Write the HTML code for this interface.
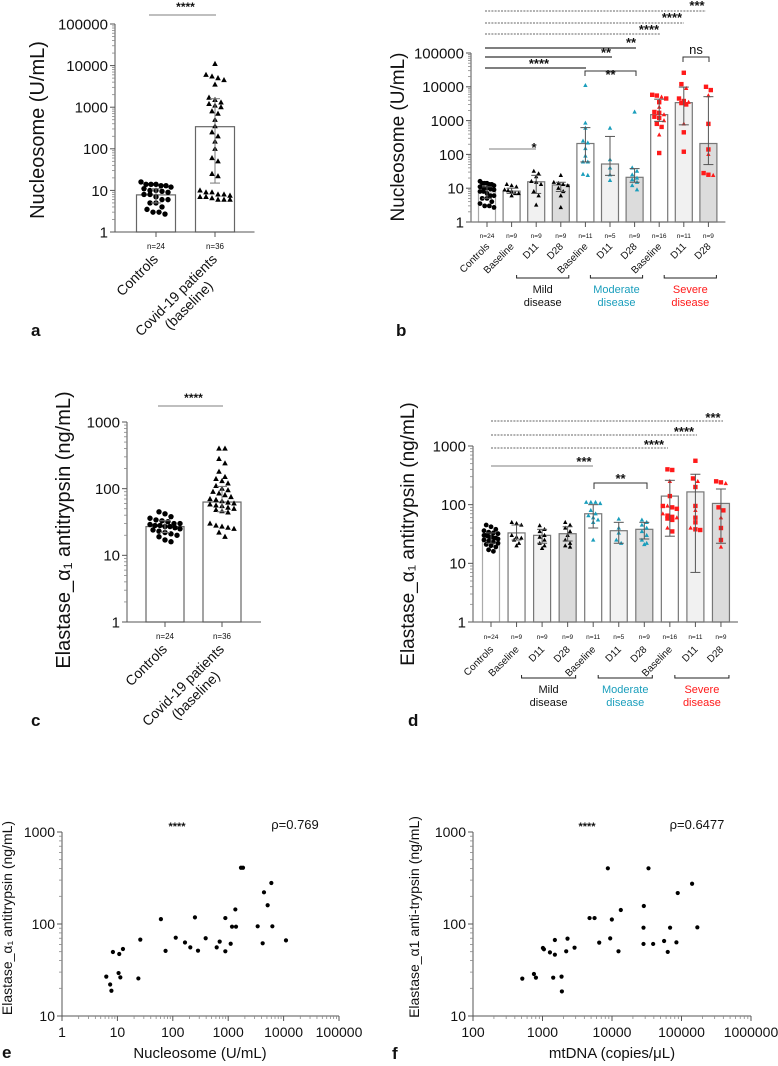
<!DOCTYPE html>
<html><head><meta charset="utf-8">
<style>
html,body{margin:0;padding:0;background:#fff;}
svg{display:block;font-family:"Liberation Sans",sans-serif;}
</style></head>
<body>
<svg id="fig" width="778" height="1066" viewBox="0 0 778 1066" xmlns="http://www.w3.org/2000/svg"></svg>
<script>
// ---------- Panel a data ----------
const aCategories = ["Controls", "Covid-19 patients"];
const aCounts = ["n=24", "n=36"];
const aMeans = [7.8, 340];
const aErrLo = [5, 15];
const aErrHi = [11, 1600];
const aControls = [14,14,14,13,13,16,12,11,10,9.5,10,9,8,8,7,6,6,5,5,4,3.5,3,3,2.7];
const aCovid = [11000,6000,5500,5000,4500,3500,1700,1500,1300,1200,1100,1000,800,700,500,350,250,200,150,100,60,50,25,22,10,9,9,8,8,7.5,7,7,6.5,6,6,6];
const aTicks = [1,10,100,1000,10000,100000];

// ---------- Panel c data ----------
const cMeans = [27, 63];
const cErrLo = [22, 45];
const cErrHi = [33, 108];
const cControls = [45,42,38,36,34,33,32,30,30,29,28,28,27,27,26,25,24,23,22,21,20,19,17,16];
const cCovid = [400,400,280,240,180,150,140,130,120,110,100,95,90,85,80,75,70,68,65,62,60,58,56,55,52,50,48,46,44,30,28,27,26,25,22,19];
const cTicks = [1,10,100,1000];

// ---------- Panel b data ----------
const bCategories = ["Controls","Baseline","D11","D28","Baseline","D11","D28","Baseline","D11","D28"];
const bCounts = ["n=24","n=9","n=9","n=9","n=11","n=5","n=9","n=16","n=11","n=9"];
const bMeans = [7.8, 8.2, 15.5, 12.5, 210, 52, 21, 1500, 3400, 210];
const bErrLo = [5, 7, 7, 8, 60, 24, 15, 950, 750, 50];
const bErrHi = [11, 10, 24, 15, 620, 340, 38, 4300, 9800, 5100];
const bPoints = [
  [14,14,14,13,13,16,12,11,10,9.5,10,9,8,8,7,6,6,5,5,4,3.5,3,3,2.7],
  [13,12,11,9,8.5,8,7,7,6],
  [32,27,22,16,15,13,8,6,3.2],
  [24,15,14,13,12,10,8,6,2.7],
  [11000,850,600,250,220,150,90,60,60,24,26],
  [600,70,40,25,17],
  [1800,40,32,25,20,18,15,12,9],
  [5800,5500,5000,4500,3500,2500,1800,1700,1500,1300,1200,1000,800,650,380,110],
  [26000,12000,9000,4500,3800,3500,3300,3000,800,450,120],
  [10000,8000,5500,800,140,100,28,25,24]
];

// ---------- Panel d data ----------
const dMeans = [27, 33, 30, 32, 70, 36, 38, 140, 165, 105];
const dErrLo = [22, 25, 22, 24, 40, 22, 26, 29, 7, 22];
const dErrHi = [33, 45, 38, 42, 100, 50, 50, 260, 330, 185];
const dPoints = [
  [45,42,38,36,34,33,32,30,30,29,28,28,27,27,26,25,24,23,22,21,20,19,17,16],
  [50,48,45,30,28,27,25,22,20],
  [44,38,35,30,28,25,22,20,18],
  [50,45,40,35,30,25,22,20,19],
  [110,110,110,105,80,70,65,60,55,50,25],
  [57,40,33,25,22],
  [55,50,45,40,35,30,25,22,21],
  [400,390,250,140,95,95,90,85,70,65,62,60,58,55,40,35],
  [560,280,250,200,95,80,60,50,40,38,37],
  [250,240,230,90,80,60,40,25,19]
];

// ---------- Panel e data ----------
const eNucleosome = [6.3,7.4,7.8,8.3,10.5,10.8,11.3,12.6,23.9,25.9,61,74,113,166,207,285,251,392,620,702,888,888,1109,1172,1346,1383,1702,1849,3404,4190,4426,5155,6010,6266,11040];
const eElastase = [26.8,22,18.8,49.6,29.3,47.2,26.3,53.5,25.6,67.6,113,51,71,63,55.7,51.3,118,70,55.7,64.3,116,50.5,61,93.5,144,93.5,409,409,94.4,61.7,221,160,279,94.4,66.4];
const eXTicks = [1,10,100,1000,10000,100000];
const eYTicks = [10,100,1000];

// ---------- Panel f data ----------
const fMtDNA = [512,753,804,1014,1048,1279,1426,1507,1507,1880,1901,2193,2291,2891,4753,5610,6546,8715,9420,9950,12400,13390,28400,28400,28700,33500,39100,56200,63400,68500,84500,88300,142000,169000];
const fElastase = [25.5,28.6,26.1,54.8,53.1,49.2,26.1,67,46.4,26.8,18.5,50.5,69.3,55.3,116,116,62.7,403,69.8,112,50.5,142,60.7,91.2,157,403,60.7,65.3,49.7,91.2,63.2,217,274,92];
const fXTicks = [100,1000,10000,100000,1000000];
const fYTicks = [10,100,1000];

const NS = "http://www.w3.org/2000/svg";
const svg = document.getElementById("fig");
function el(tag, attrs, parent, text) {
  const e = document.createElementNS(NS, tag);
  for (const k in attrs) e.setAttribute(k, attrs[k]);
  if (text !== undefined) e.textContent = text;
  (parent || svg).appendChild(e);
  return e;
}
function logScale(vmin, vmax, p0, p1) {
  const l0 = Math.log10(vmin), l1 = Math.log10(vmax);
  return v => p0 + (Math.log10(v) - l0) / (l1 - l0) * (p1 - p0);
}
function yLogAxis(g, x, y, ticks, fs, name) {
  const ax = el("g", {}, g);
  
  
  const top = y(ticks[ticks.length-1]), bot = y(ticks[0]);
  el("line", {x1:x, y1:top, x2:x, y2:bot, stroke:"#555", "stroke-width":1}, ax);
  ticks.forEach((t, i) => {
    el("line", {x1:x-5, y1:y(t), x2:x, y2:y(t), stroke:"#555"}, ax);
    const lbl = el("text", {x:x-7, y:y(t)+fs*0.36, "text-anchor":"end", "font-size":fs, fill:"#111"}, ax, String(t));
    
    
    if (i < ticks.length-1) for (let m = 2; m <= 9; m++) {
      el("line", {x1:x-3, y1:y(t*m), x2:x, y2:y(t*m), stroke:"#888", "stroke-width":0.8}, ax);
    }
  });
}
function xLogAxis(g, y, x, ticks, fs, name) {
  const ax = el("g", {}, g);
  
  
  el("line", {x1:x(ticks[0]), y1:y, x2:x(ticks[ticks.length-1]), y2:y, stroke:"#555"}, ax);
  ticks.forEach((t, i) => {
    el("line", {x1:x(t), y1:y, x2:x(t), y2:y+5, stroke:"#555"}, ax);
    const lbl = el("text", {x:x(t), y:y+21, "text-anchor":"middle", "font-size":fs, fill:"#111"}, ax, String(t));
    
    
    if (i < ticks.length-1) for (let m = 2; m <= 9; m++) {
      el("line", {x1:x(t*m), y1:y, x2:x(t*m), y2:y+3, stroke:"#888", "stroke-width":0.8}, ax);
    }
  });
}
function marker(g, shape, cx, cy, r, color) {
  let m;
  if (shape === "circle") m = el("circle", {cx, cy, r, fill:color}, g);
  else if (shape === "square") m = el("rect", {x:cx-r, y:cy-r, width:2*r, height:2*r, fill:color}, g);
  else m = el("polygon", {points:`${cx},${cy-r*1.1} ${cx-r},${cy+r*0.75} ${cx+r},${cy+r*0.75}`, fill:color}, g);
  
  
}
// compact binned swarm: points grouped into vertical bins, spread in rows, capped to maxW
function swarm(vals, y, d, maxW) {
  const idx = vals.map((v,i)=>i).sort((a,b)=>y(vals[a])-y(vals[b]));
  const out = new Array(vals.length).fill(0);
  let bin = [], binStart = null;
  const flush = () => {
    const n = bin.length;
    if (n > 1) {
      const sp = Math.min(d, maxW/(n-1));
      bin.forEach((i,k) => { out[i] = (k-(n-1)/2)*sp; });
    }
    bin = [];
  };
  idx.forEach(i => {
    const py = y(vals[i]);
    if (binStart === null || py - binStart > d*0.9) { flush(); binStart = py; }
    bin.push(i);
  });
  flush();
  return out;
}
function bars(g, centers, w, y, base, means, fills, strokes) {
  means.forEach((m, i) => {
    const r = el("rect", {x:centers[i]-w/2, y:y(m), width:w, height:base-y(m), fill:fills[i], stroke:strokes[i], "stroke-width":1.2}, g);
    
    
  });
}
function errbars(g, centers, cap, y, lo, hi, color) {
  lo.forEach((l, i) => {
    const cx = centers[i];
    const eg = el("g", {stroke:color, "stroke-width":1}, g);
    
    
    el("line", {x1:cx, y1:y(l), x2:cx, y2:y(hi[i])}, eg);
    el("line", {x1:cx-cap, y1:y(l), x2:cx+cap, y2:y(l)}, eg);
    el("line", {x1:cx-cap, y1:y(hi[i]), x2:cx+cap, y2:y(hi[i])}, eg);
  });
}
function text(g, x, y, s, attrs, name) {
  const t = el("text", Object.assign({x, y, fill:"#111"}, attrs), g, s);
  
  
  return t;
}
function sigLine(g, x1, x2, y, dashed, stars, sx, sy, color) {
  const l = el("line", {x1, y1:y, x2, y2:y, stroke:color||"#333", "stroke-width":dashed?0.8:1.2}, g);
  if (dashed) l.setAttribute("stroke-dasharray", "2,1.2");
  
  
  text(g, sx, sy, stars, {"font-size":13, "text-anchor":"middle", "font-weight":"bold"}, 'significance-stars');
}
function bracket(g, x1, x2, y, h, label, ly, fs) {
  const p = el("path", {d:`M${x1},${y+h} L${x1},${y} L${x2},${y} L${x2},${y+h}`, fill:"none", stroke:"#333", "stroke-width":1}, g);
  
  
  text(g, (x1+x2)/2, ly, label, {"font-size":fs||13, "text-anchor":"middle", "font-weight": label==="ns"?"normal":"bold"}, 'bracket-label');
}

// ================= Panel A & C (two-bar) =================
function twoBar(name, xAx, yTop, yBot, ticks, centers, w, means, lo, hi, ctrl, covid, yTitle, yTitleX, yTitleY, sig, letter) {
  const g = el("g", {});  
  const y = logScale(ticks[0], ticks[ticks.length-1], yBot, yTop);
  bars(g, centers, w, y, yBot, means, ["#fff","#fff"], ["#666","#666"]);
  const offC = swarm(ctrl, y, 6, 30);
  ctrl.forEach((v,i)=>marker(g, "circle", centers[0]+offC[i], y(v), 2.7, "#000"));
  const offV = swarm(covid, y, 6, 30);
  covid.forEach((v,i)=>marker(g, "tri", centers[1]+offV[i], y(v), 2.8, "#000"));
  errbars(g, centers, 5, y, lo, hi, "#777");
  yLogAxis(g, xAx, y, ticks, 15, "y-axis");
  el("line", {x1:xAx-2, y1:yBot, x2:centers[1]+w/2+20, y2:yBot, stroke:"#555"}, g);
  centers.forEach(c => el("line", {x1:c, y1:yBot, x2:c, y2:yBot+5, stroke:"#555"}, g));
  aCounts.forEach((n,i)=>text(g, centers[i], yBot+17, n, {"font-size":8, "text-anchor":"middle"}, 'n-label'));
  const t1 = el("g", {transform:`translate(${centers[0]+3},${yBot+28}) rotate(-45)`}, g);
  text(t1, 0, 0, aCategories[0], {"font-size":14, "text-anchor":"end"}, 'x-category-label');
  const t2 = el("g", {transform:`translate(${centers[1]+3},${yBot+28}) rotate(-45)`}, g);
  text(t2, 0, 0, aCategories[1], {"font-size":14, "text-anchor":"end"}, 'x-category-label');
  text(t2, -22, 16, "(baseline)", {"font-size":14, "text-anchor":"end"}, 'x-category-label');
  text(g, 0, 0, yTitle, {"font-size":20, "text-anchor":"middle", transform:`translate(${yTitleX},${yTitleY}) rotate(-90)`}, 'y-axis-title');
  el("line", {x1:centers[0]-7, y1:sig, x2:centers[1]+1, y2:sig, stroke:"#999", "stroke-width":1.3}, g);
  text(g, (centers[0]+centers[1])/2, sig-4, "****", {"font-size":12, "text-anchor":"middle", "font-weight":"bold"}, 'significance-stars');
  text(g, letter[1], letter[2], letter[0], {"font-size":17, "font-weight":"bold"}, 'panel-label');
}
twoBar("panel-a", 115, 24, 232, aTicks, [156,215], 39, aMeans, aErrLo, aErrHi, aControls, aCovid, "Nucleosome (U/mL)", 44, 130, 15, ["a",31,336]);
twoBar("panel-c", 127, 422, 622, cTicks, [165,222], 38, cMeans, cErrLo, cErrHi, cControls, cCovid, "Elastase_α\u2081 antitrypsin (ng/mL)", 70, 530, 406, ["c",31,726]);

// ================= Panel B & D (ten-bar) =================
const grpColors = ["#000","#000","#000","#000","#1a9ebc","#1a9ebc","#1a9ebc","#ff1a1a","#ff1a1a","#ff1a1a"];
const barFills = ["#fff","#fff","#f1f1f1","#dcdcdc","#fff","#f1f1f1","#dcdcdc","#fff","#f1f1f1","#dcdcdc"];
function tenBar(name, xAx, yTop, yBot, ticks, c0, step, means, lo, hi, pts, nY, lblY, brY, yTitle, yTX, yTY) {
  const g = el("g", {});  
  const y = logScale(ticks[0], ticks[ticks.length-1], yBot, yTop);
  const centers = means.map((_, i) => c0 + i*step);
  bars(g, centers, 17, y, yBot, means, barFills, barFills.map((_,i)=>i===0?"#aaa":"#777"));
  pts.forEach((arr, gi) => {
    const off = swarm(arr, y, 4.8, 14);
    arr.forEach((v, k) => {
      let shape = gi === 0 ? "circle" : "tri";
      if (gi >= 7 && k % 3 !== 2) shape = "square";
      marker(g, shape, centers[gi] + off[k], y(v), gi===0?2.4:2.2, grpColors[gi]);
    });
  });
  errbars(g, centers, 5, y, lo, hi, "#555");
  yLogAxis(g, xAx, y, ticks, 15, "y-axis");
  el("line", {x1:xAx-2, y1:yBot, x2:centers[9]+17, y2:yBot, stroke:"#777", "stroke-width":1.2}, g);
  centers.forEach((c,i) => {
    el("line", {x1:c, y1:yBot, x2:c, y2:yBot+5, stroke:"#555"}, g);
    text(g, c, nY, bCounts[i], {"font-size":6.5, "text-anchor":"middle"}, 'n-label');
    const tg = el("g", {transform:`translate(${c+3},${lblY}) rotate(-45)`}, g);
    text(tg, 0, 0, bCategories[i], {"font-size":10, "text-anchor":"end"}, 'x-category-label');
  });
  const groups = [["Mild","disease","#111",1,3],["Moderate","disease","#1a9ebc",4,6],["Severe","disease","#ff1a1a",7,9]];
  groups.forEach(gr => {
    const x1 = centers[gr[3]] + 5, x2 = centers[gr[4]] + 8;
    const p = el("path", {d:`M${x1},${brY-3} L${x1},${brY} L${x2},${brY} L${x2},${brY-3}`, fill:"none", stroke:"#222", "stroke-width":1}, g);
    
    
    text(g, (x1+x2)/2, brY+15, gr[0], {"font-size":11, "text-anchor":"middle", fill:gr[2]}, 'group-label');
    text(g, (x1+x2)/2, brY+28, gr[1], {"font-size":11, "text-anchor":"middle", fill:gr[2]}, 'group-label');
  });
  text(g, 0, 0, yTitle, {"font-size":19, "text-anchor":"middle", transform:`translate(${yTX},${yTY}) rotate(-90)`}, 'y-axis-title');
  return {g, centers, y};
}
const B = tenBar("panel-b", 471, 53, 222, aTicks, 487, 24.6, bMeans, bErrLo, bErrHi, bPoints, 238, 247, 278, "Nucleosome (U/mL)", 404, 137);
sigLine(B.g, 485, 706, 11, true, "***", 697, 10);
sigLine(B.g, 485, 684, 23, true, "****", 672, 22);
sigLine(B.g, 485, 661, 34, true, "****", 649, 34);
sigLine(B.g, 485, 636, 48, false, "**", 631, 47);
sigLine(B.g, 485, 612, 57, false, "**", 606, 57);
sigLine(B.g, 485, 586, 68, false, "****", 539, 68);
sigLine(B.g, 489, 536, 149, false, "*", 534, 152, "#999");
bracket(B.g, 585, 636, 71, 5, "**", 79);
bracket(B.g, 683, 709, 57, 5, "ns", 54);
text(B.g, 396, 336, "b", {"font-size":17, "font-weight":"bold"}, 'panel-label');

const D = tenBar("panel-d", 473, 446, 622, cTicks, 491, 25.55, dMeans, dErrLo, dErrHi, dPoints, 639, 650, 678, "Elastase_α\u2081 antitrypsin (ng/mL)", 414, 534);
sigLine(D.g, 491, 723, 421, true, "***", 713, 422);
sigLine(D.g, 491, 697, 435, true, "****", 684, 436);
sigLine(D.g, 491, 668, 448, true, "****", 654, 449);
sigLine(D.g, 491, 593, 466, false, "***", 584, 466, "#999");
bracket(D.g, 594, 647, 483, 6, "**", 483);
text(D.g, 408, 726, "d", {"font-size":17, "font-weight":"bold"}, 'panel-label');

// ================= Panel E & F (scatter) =================
function scatter(name, xs, ys, xT, yT, xp0, xp1, yp0, yp1, xTitle, xTX, yTitle, yTX, yTY, rho, starsX, rhoX, letter) {
  const g = el("g", {});  
  const x = logScale(xT[0], xT[xT.length-1], xp0, xp1);
  const y = logScale(yT[0], yT[yT.length-1], yp0, yp1);
  yLogAxis(g, xp0, y, yT, 14, "y-axis");
  xLogAxis(g, yp0, x, xT, 14, "x-axis");
  xs.forEach((v,i) => marker(g, "circle", x(v), y(ys[i]), 2.1, "#000"));
  text(g, xTX, 1058, xTitle, {"font-size":15, "text-anchor":"middle"}, 'x-axis-title');
  text(g, 0, 0, yTitle, {"font-size":14, "text-anchor":"middle", transform:`translate(${yTX},${yTY}) rotate(-90)`}, 'y-axis-title');
  text(g, starsX, 830, "****", {"font-size":11, "text-anchor":"middle", "font-weight":"bold"}, 'significance-stars');
  text(g, rhoX, 829, rho, {"font-size":13, "text-anchor":"middle"}, 'correlation-label');
  text(g, letter[1], letter[2], letter[0], {"font-size":17, "font-weight":"bold"}, 'panel-label');
}
scatter("panel-e", eNucleosome, eElastase, eXTicks, eYTicks, 62, 339, 1016, 832, "Nucleosome (U/mL)", 200, "Elastase_α\u2081 antitrypsin (ng/mL)", 12, 918, "ρ=0.769", 177, 295, ["e",2,1058]);
scatter("panel-f", fMtDNA, fElastase, fXTicks, fYTicks, 473, 751, 1016, 832, "mtDNA (copies/μL)", 612, "Elastase_α1 anti-trypsin (ng/mL)", 419, 917, "ρ=0.6477", 587, 697, ["f",392,1059]);
</script>
</body></html>
